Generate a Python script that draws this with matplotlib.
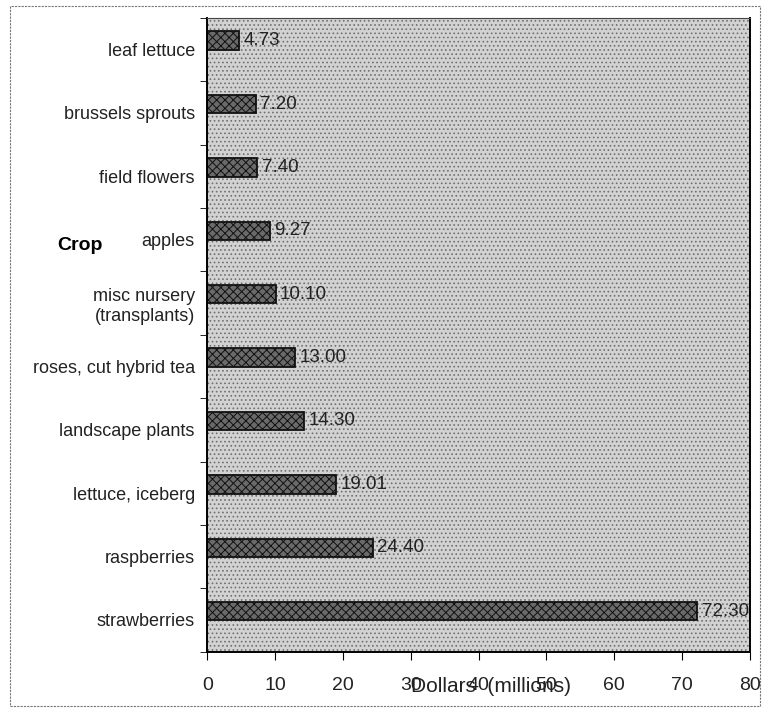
import matplotlib.pyplot as plt
import matplotlib.patches as patches
import numpy as np

# crops listed from bottom to top of the chart
crops = ["strawberries", "raspberries", "lettuce, iceberg", "landscape plants",
         "roses, cut hybrid tea", "misc nursery\n(transplants)", "apples",
         "field flowers", "brussels sprouts", "leaf lettuce"]
dollars = [72.30, 24.40, 19.01, 14.30, 13.00, 10.10, 9.27, 7.40, 7.20, 4.73]
x_ticks = [0, 10, 20, 30, 40, 50, 60, 70, 80]

plt.rcParams['font.family'] = ['Liberation Sans', 'DejaVu Sans']
plt.rcParams['hatch.linewidth'] = 0.7

fig = plt.figure(figsize=(7.65, 7.13), dpi=100)
ax = fig.add_axes([0.271, 0.086, 0.709, 0.889])

# dotted grey plot background
ax.set_facecolor('#d2d2d2')
ax.add_patch(patches.Rectangle((0, 0), 1, 1, transform=ax.transAxes,
                               facecolor='none', edgecolor='#707070',
                               hatch='....', linewidth=0, zorder=0))

y = np.arange(len(crops))
bars = ax.barh(y + 0.14, dollars, height=0.29, color='#6a6a6a',
               edgecolor='#111111', hatch='xxxx', linewidth=1.3, zorder=2)

for yy, v in zip(y, dollars):
    ax.text(v + 0.6, yy + 0.14, f"{v:.2f}", va='center', ha='left',
            fontsize=13.5, color='#222222', zorder=3)

ax.set_xlim(0, 80)
ax.set_ylim(-0.5, len(crops) - 0.5)
ax.set_xticks(x_ticks)
ax.set_xticklabels([str(t) for t in x_ticks], fontsize=14, color='#222222')
ax.set_yticks(y)
ax.set_yticklabels(crops, fontsize=13, color='#222222')
ax.set_yticks(np.arange(-0.5, len(crops), 1.0), minor=True)
ax.tick_params(axis='y', which='major', length=0, pad=9)
ax.tick_params(axis='y', which='minor', length=5, direction='out')
ax.tick_params(axis='x', length=6, direction='out', pad=12)

for side in ['left', 'bottom', 'right']:
    ax.spines[side].set_linewidth(1.4)
ax.spines['top'].set_linewidth(0.8)
ax.spines['top'].set_color('#444444')

fig.text(0.105, 1 - 245 / 713, "Crop", fontsize=14, fontweight='bold',
         ha='center', va='center')
fig.text(0.642, 1 - 686 / 713, "Dollars  (millions)", fontsize=15,
         ha='center', va='center', color='#222222')

# outer frame of the scanned page
fig.add_artist(patches.Rectangle((0.013, 0.01), 0.98, 0.982,
                                 transform=fig.transFigure, fill=False,
                                 edgecolor='#777777', linewidth=0.8,
                                 linestyle=(0, (2, 1))))

fig.savefig("out.png", dpi=100)
